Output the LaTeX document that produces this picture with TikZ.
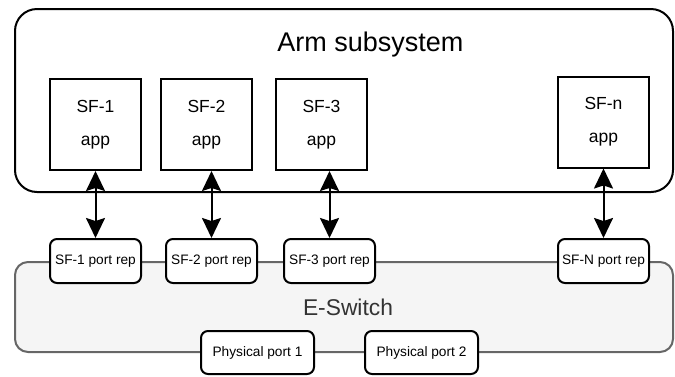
\documentclass[tikz,border=0pt]{standalone}
\usepackage{fontspec}
\setmainfont{Liberation Sans}
\usetikzlibrary{arrows.meta, positioning}
\definecolor{switchfill}{HTML}{F5F5F5}
\definecolor{switchline}{HTML}{666666}
\definecolor{switchtext}{HTML}{333333}
\tikzset{sfapp/.style = {draw, line width=2pt, minimum width=91pt, minimum height=91pt,
                         inner sep=0pt, align=center, font=\fontsize{17.5}{21}\selectfont}}
\tikzset{portrep/.style = {draw, line width=2pt, rounded corners=7pt, fill=white, inner sep=0pt,
                           minimum width=91pt, minimum height=44pt, font=\fontsize{13.7}{16}\selectfont}}
\tikzset{physport/.style = {portrep, minimum width=113pt, minimum height=43pt}}
\tikzset{darrow/.style = {line width=2pt, {Stealth[length=20pt, width=19pt, inset=3pt]}-{Stealth[length=20pt, width=19pt, inset=3pt]}}}

\begin{document}
\begin{tikzpicture}[x=1pt, y=-1pt]
    \useasboundingbox (0,0) rectangle (675,376);

    \node[draw=switchline, fill=switchfill, line width=2pt, rounded corners=13pt,
          minimum width=658pt, minimum height=90pt, inner sep=0pt] (eswitch) at (344,307) {};
    \node[text=switchtext, font=\fontsize{22.8}{27}\selectfont] (eswitchlabel) at (348,307) {E-Switch};

    \node[draw, line width=2pt, rounded corners=22pt, fill=white,
          minimum width=658pt, minimum height=183pt, inner sep=0pt] (arm) at (344,100.5) {};
    \node[font=\fontsize{27}{32}\selectfont] (armlabel) at (370.5,45) {Arm subsystem};

    \node[sfapp] (sf1) at (95.5,124.5) {SF-1\\[12pt]app};
    \node[sfapp] (sf2) at (206.5,124.5) {SF-2\\[12pt]app};
    \node[sfapp] (sf3) at (321.5,124.5) {SF-3\\[12pt]app};
    \node[sfapp] (sfn) at (603.5,122) {SF-n\\[12pt]app};

    \node[portrep] (pr1) at (95.5,261) {SF-1 port rep};
    \node[portrep] (pr2) [right=23pt of pr1] {SF-2 port rep};
    \node[portrep] (pr3) [right=25pt of pr2] {SF-3 port rep};
    \node[portrep] (prn) at (603.5,261) {SF-N port rep};

    \node[physport] (phys1) at (257.5,352.5) {Physical port 1};
    \node[physport] (phys2) [right=49pt of phys1] {Physical port 2};

    \draw[darrow] (pr1.north) -- (pr1.north |- sf1.south);
    \draw[darrow] (pr2.north) -- (pr2.north |- sf2.south);
    \draw[darrow] (pr3.north) -- (pr3.north |- sf3.south);
    \draw[darrow] (prn.north) -- (prn.north |- sfn.south);
\end{tikzpicture}
\end{document}
